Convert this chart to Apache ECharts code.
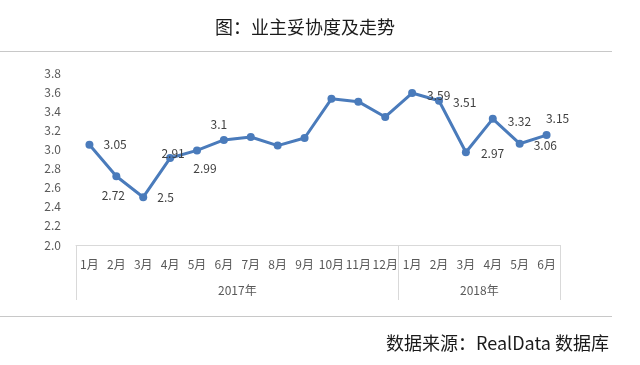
<!DOCTYPE html>
<html>
<head>
<meta charset="utf-8">
<script src="https://cdn.jsdelivr.net/npm/echarts@6/dist/echarts.min.js"></script>
<style>
html,body{margin:0;padding:0;background:#fff;}
#chart{width:640px;height:365px;}
</style>
</head>
<body>
<div id="chart"></div>
<script>
// ---- data ----
const months = ['1月','2月','3月','4月','5月','6月','7月','8月','9月','10月','11月','12月','1月','2月','3月','4月','5月','6月'];
const years = ['2017年','2018年'];
const monthsPerYear = [12, 6];
const values = [3.05, 2.72, 2.5, 2.91, 2.99, 3.1, 3.13, 3.04, 3.12, 3.53, 3.50, 3.34, 3.59, 3.51, 2.97, 3.32, 3.06, 3.15];
const labeled = [true, true, true, true, true, true, false, false, false, false, false, false, true, true, true, true, true, true];
const yTicks = [2.0, 2.2, 2.4, 2.6, 2.8, 3.0, 3.2, 3.4, 3.6, 3.8];
const titleText = '图：业主妥协度及走势';
const sourceText = '数据来源：RealData 数据库';

// ---- label placement (style) ----
const labelStyle = [
  {position:'right', distance:10},
  {position:'bottom', distance:9, offset:[-3,0]},
  {position:'right', distance:10},
  {position:'inside', offset:[3,-5]},
  {position:'bottom', distance:8, offset:[8,0]},
  {position:'top', distance:5, offset:[-5,0]},
  null,null,null,null,null,null,
  {position:'right', distance:11, offset:[0,2]},
  {position:'right', distance:10, offset:[0,2]},
  {position:'right', distance:11, offset:[0,1]},
  {position:'right', distance:11, offset:[0,3]},
  {position:'right', distance:10, offset:[0,2]},
  {position:'top', distance:7, offset:[11,0]}
];

const FONT = '"Microsoft YaHei","Noto Sans CJK SC","Noto Sans",sans-serif';

// boundaries and centers of year groups
const bounds = [0];
monthsPerYear.forEach(n => bounds.push(bounds[bounds.length-1] + n));
const centers = monthsPerYear.map((n, i) => bounds[i] + n / 2);

const seriesData = values.map((v, i) => {
  const item = {value: v};
  if (labeled[i]) {
    item.label = Object.assign({show: true}, labelStyle[i]);
  }
  return item;
});

const chart = echarts.init(document.getElementById('chart'), null, {renderer:'canvas'});
chart.setOption({
  animation: false,
  backgroundColor: '#fff',
  textStyle: {fontFamily: FONT},
  grid: {left: 76, right: 80, top: 73, bottom: 120, containLabel: false},
  xAxis: [
    {
      type: 'category',
      data: months,
      boundaryGap: true,
      axisLine: {show: true, lineStyle: {color: '#d9d9d9', width: 1}},
      axisTick: {show: false},
      axisLabel: {interval: 0, color: '#595959', fontSize: 12, margin: 13, fontFamily: FONT},
      splitLine: {show: false}
    },
    {
      type: 'value',
      min: 0,
      max: bounds[bounds.length-1],
      position: 'bottom',
      axisLine: {show: false},
      splitLine: {show: false},
      axisTick: {show: true, customValues: bounds, length: 55, lineStyle: {color: '#d9d9d9', width: 1}},
      axisLabel: {
        show: true,
        customValues: centers,
        formatter: function (v) {
          const idx = centers.indexOf(v);
          return idx >= 0 ? years[idx] : '';
        },
        color: '#595959', fontSize: 12, margin: 39, fontFamily: FONT
      }
    }
  ],
  yAxis: {
    type: 'value',
    min: yTicks[0],
    max: yTicks[yTicks.length-1],
    interval: 0.2,
    axisLine: {show: false},
    axisTick: {show: false},
    splitLine: {show: false},
    axisLabel: {color: '#595959', fontSize: 12, margin: 15, fontFamily: FONT,
      formatter: v => v.toFixed(1)}
  },
  series: [{
    type: 'line',
    xAxisIndex: 0,
    data: seriesData,
    symbol: 'circle',
    symbolSize: 8,
    lineStyle: {color: '#4a7bbb', width: 3},
    itemStyle: {color: '#4a7bbb'},
    label: {show: false, color: '#404040', fontSize: 12, fontFamily: FONT},
    z: 3
  }],
  graphic: [
    {type: 'text', x: 305, y: 27, style: {text: titleText, font: '18px ' + FONT, fill: '#1a1a1a', textAlign: 'center', textVerticalAlign: 'middle'}},
    {type: 'line', shape: {x1: 0, y1: 51.5, x2: 612, y2: 51.5}, style: {stroke: '#c8c8c8', lineWidth: 1}},
    {type: 'line', shape: {x1: 0, y1: 316.5, x2: 612, y2: 316.5}, style: {stroke: '#c8c8c8', lineWidth: 1}},
    {type: 'text', x: 609, y: 343, style: {text: sourceText, font: '18px ' + FONT, fill: '#1a1a1a', textAlign: 'right', textVerticalAlign: 'middle'}}
  ]
});
</script>
</body>
</html>
